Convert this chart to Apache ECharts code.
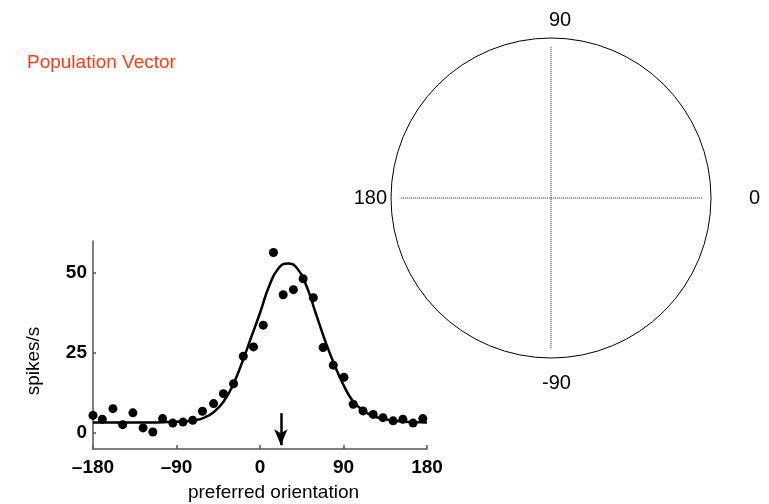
<!DOCTYPE html>
<html>
<head>
<meta charset="utf-8">
<title>Population Vector</title>
<script src="https://cdn.jsdelivr.net/npm/echarts@6.0.0/dist/echarts.min.js"></script>
<style>
  html, body { margin: 0; padding: 0; background: #fff; }
  #chart { width: 769px; height: 504px; }
</style>
</head>
<body>
<div id="chart"></div>
<script>
// measured responses (dots)
const orientation = [-180, -170, -158.5, -148, -137, -126, -115.5, -105, -94, -83, -72.5, -62, -50, -39.5, -28.5, -18, -7, 3.5, 14.5, 25, 36, 46.5, 57.5, 68, 79, 90.5, 100.5, 111, 122, 132.5, 143.5, 154, 165, 175.5];
const rate = [5.5, 4.3, 7.6, 2.6, 6.3, 1.6, 0.3, 4.5, 3.1, 3.4, 4.0, 6.8, 9.2, 12.3, 15.4, 24.0, 26.9, 33.7, 56.4, 43.2, 44.8, 48.2, 42.3, 26.7, 21.2, 17.4, 9.0, 6.9, 5.8, 4.8, 3.8, 4.3, 3.1, 4.5];

// fitted tuning curve
const fitX = [-180, -150, -120, -100, -85, -70, -60, -50, -40, -30, -20, -10, 0, 10, 20, 30, 40, 50, 60, 70, 80, 90, 100, 110, 120, 135, 150, 165, 180];
const fitY = [3.3, 3.3, 3.3, 3.4, 3.6, 4.0, 4.8, 6.5, 9.5, 14.5, 21.5, 29.5, 37.5, 46.0, 51.5, 53.0, 51.5, 46.0, 37.5, 29.0, 21.5, 15.0, 10.0, 7.3, 5.5, 4.3, 3.7, 3.4, 3.3];

// population vector arrow (x, from y, to y)
const arrowX = 22.5;
const arrowY = [6.2, -3.8];

const xTicks = [-180, -90, 0, 90, 180];
const yTicks = [0, 25, 50];

// polar panel
const polarTicks = [0, 90, 180, 270];
const polarLabels = ['0', '90', '180', '-90'];
const spokeRadius = 0.945;

const chart = echarts.init(document.getElementById('chart'), null, { renderer: 'canvas' });

const labelRich = {
  r0: { fontSize: 20, color: '#000', padding: [0, 0, 0, 34] },
  r90: { fontSize: 20, color: '#000', padding: [0, 0, 4, 18] },
  r180: { fontSize: 20, color: '#000', padding: [0, 0, 0, 0] },
  r270: { fontSize: 20, color: '#000', padding: [11, 0, 0, 11] }
};

const option = {
  animation: false,
  textStyle: { fontFamily: 'Arial, "Liberation Sans", Helvetica, sans-serif' },
  title: {
    text: 'Population Vector',
    left: 22,
    top: 48,
    textStyle: { color: '#ff3a12', fontSize: 19, fontWeight: 'normal' }
  },
  grid: {
    left: 93,
    right: 342,
    top: 241,
    bottom: 55
  },
  xAxis: {
    type: 'value',
    min: -180,
    max: 180,
    interval: 90,
    name: 'preferred orientation',
    nameLocation: 'middle',
    nameGap: 34,
    nameTextStyle: { fontSize: 19, color: '#000', padding: [0, 0, 0, 27] },
    axisLine: { onZero: false, lineStyle: { color: '#555', width: 1.5 } },
    axisTick: { inside: true, length: 4, lineStyle: { color: '#555', width: 1.5 }, customValues: xTicks },
    axisLabel: {
      fontSize: 19,
      fontWeight: 'bold',
      color: '#000',
      margin: 9,
      customValues: xTicks,
      formatter: (v) => (v < 0 ? '\u2013' + Math.abs(v) : String(v))
    },
    splitLine: { show: false }
  },
  yAxis: {
    type: 'value',
    min: -5,
    max: 60,
    name: 'spikes/s',
    nameLocation: 'middle',
    nameGap: 50,
    nameRotate: 90,
    nameTextStyle: { fontSize: 19, color: '#000', padding: [0, 32, 0, 0] },
    axisLine: { show: true, onZero: false, lineStyle: { color: '#555', width: 1.5 } },
    axisTick: { show: true, inside: true, length: 3, lineStyle: { color: '#555', width: 1.5 }, customValues: yTicks },
    axisLabel: { fontSize: 19, fontWeight: 'bold', color: '#000', margin: 6, customValues: yTicks },
    splitLine: { show: false }
  },
  polar: {
    center: [551, 198],
    radius: 160
  },
  angleAxis: {
    type: 'value',
    min: 0,
    max: 360,
    interval: 90,
    startAngle: 0,
    clockwise: false,
    axisLine: { lineStyle: { color: '#000', width: 1 } },
    axisTick: { show: false },
    splitLine: { show: false },
    axisLabel: {
      margin: 4,
      color: '#000',
      fontSize: 20,
      formatter: (v) => {
        const i = polarTicks.indexOf(v);
        if (i < 0) return '';
        return '{r' + v + '|' + polarLabels[i] + '}';
      },
      rich: labelRich
    }
  },
  radiusAxis: {
    min: 0,
    max: 1,
    show: false,
    axisLine: { show: false },
    axisLabel: { show: false },
    axisTick: { show: false },
    splitLine: { show: false }
  },
  series: [
    {
      name: 'fit',
      type: 'line',
      data: fitX.map((x, i) => [x, fitY[i]]),
      smooth: 0.5,
      showSymbol: false,
      silent: true,
      lineStyle: { color: '#000', width: 2.5 },
      z: 2
    },
    {
      name: 'rate',
      type: 'scatter',
      data: orientation.map((x, i) => [x, rate[i]]),
      symbol: 'circle',
      symbolSize: 9,
      itemStyle: { color: '#000', opacity: 1 },
      z: 3,
      markLine: {
        silent: true,
        symbol: ['none', 'arrow'],
        symbolSize: [10, 16],
        label: { show: false },
        lineStyle: { color: '#000', width: 2.5, type: 'solid' },
        data: [[{ coord: [arrowX, arrowY[0]] }, { coord: [arrowX, arrowY[1]] }]]
      }
    },
    {
      name: 'horizontal',
      type: 'line',
      coordinateSystem: 'polar',
      data: [[spokeRadius, polarTicks[0]], [spokeRadius, polarTicks[2]]],
      showSymbol: false,
      silent: true,
      lineStyle: { color: '#222', width: 1, type: [1, 1] }
    },
    {
      name: 'vertical',
      type: 'line',
      coordinateSystem: 'polar',
      data: [[spokeRadius, polarTicks[1]], [spokeRadius, polarTicks[3]]],
      showSymbol: false,
      silent: true,
      lineStyle: { color: '#222', width: 1, type: [1, 1] }
    }
  ]
};

chart.setOption(option);
</script>
</body>
</html>
